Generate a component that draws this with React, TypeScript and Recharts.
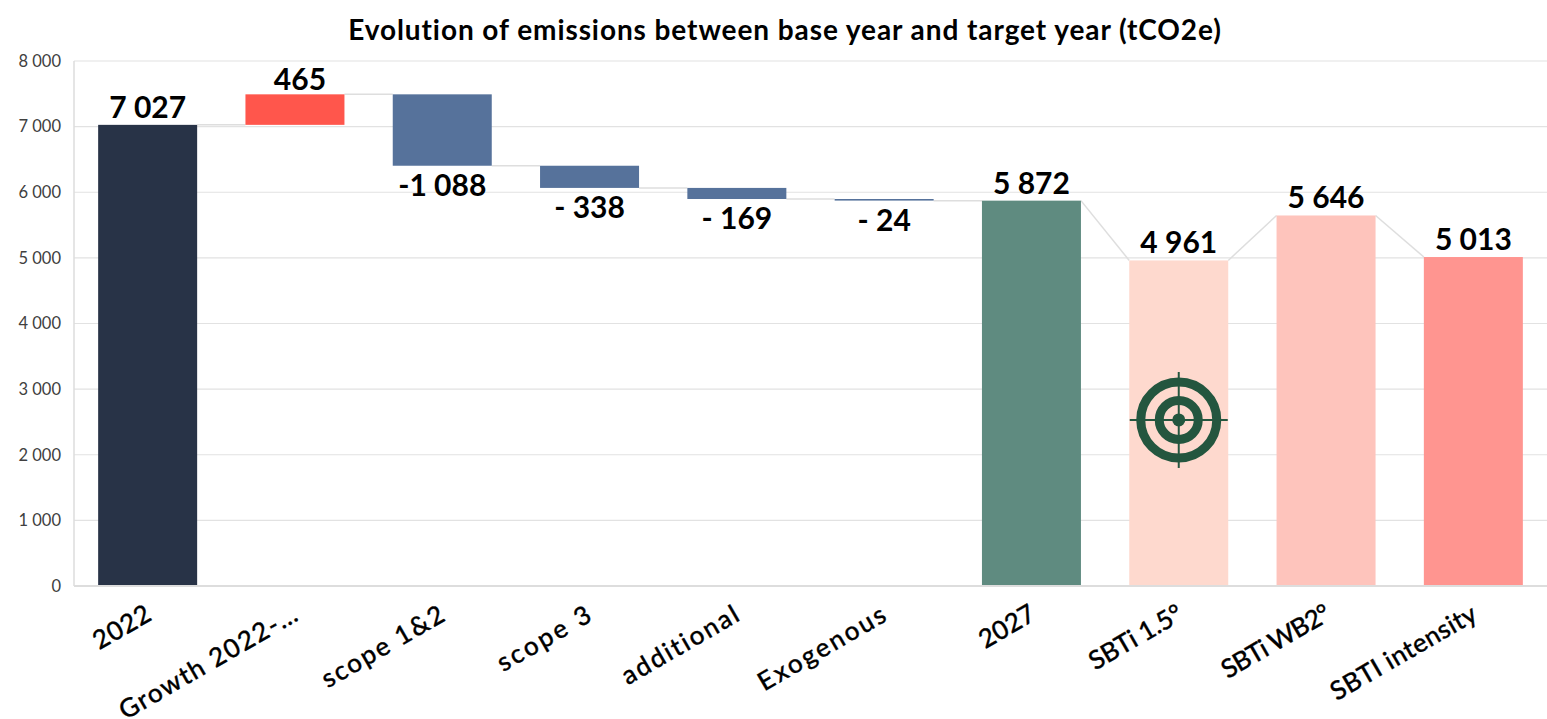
import React from "react";
import { ComposedChart, Bar, XAxis, YAxis, CartesianGrid, ReferenceDot, LabelList } from "recharts";

const categories = ["2022", "Growth 2022-…", "scope 1&2", "scope 3", "additional", "Exogenous", "2027", "SBTi 1.5°", "SBTi WB2°", "SBTI intensity"];
const lows = [0, 7027, 6404, 6066, 5897, 5873, 0, 0, 0, 0];
const highs = [7027, 7492, 7492, 6404, 6066, 5897, 5872, 4961, 5646, 5013];
const labels = ["7 027", "465", "-1 088", "- 338", "- 169", "- 24", "5 872", "4 961", "5 646", "5 013"];
const below = [false, false, true, true, true, true, false, false, false, false];
const colors = ["#283347", "#ff564c", "#56729b", "#56729b", "#56729b", "#56729b", "#5f8b80", "#fed9ce", "#fec4bc", "#ff9590"];
// connector: level on this bar's right edge -> level on the next bar's left edge
const connectFrom = [7027, 7492, 6404, 6066, 5897, 5872, 5872, 4961, 5646];
const connectTo = [7027, 7492, 6404, 6066, 5897, 5872, 4961, 5646, 5013];
const yTicks = [0, 1000, 2000, 3000, 4000, 5000, 6000, 7000, 8000];
const targetValue = 2530;

const data = categories.map((name, i) => ({ name, range: [lows[i], highs[i]] as [number, number], label: labels[i] }));

// text fitting, the substitute font's widths differ per label
const tickSpacing = [0.6, 1.5, 1.9, 2.6, 2, 2.3, 0, -0.3, -0.9, 0.4];
const FONT = "'Lato', 'Open Sans', sans-serif";
const W = 1547;
const H = 719;
const M = { top: 61, right: 0, bottom: 33, left: 0 };
const YW = 74;
const XH = 100;
const BAR = 99;
const STEP = (W - M.left - M.right - YW) / categories.length;

const WaterfallBar = (props: any) => {
  const { x, y, width, height, index } = props;
  const lo = lows[index];
  const hi = highs[index];
  const top = Math.min(y, y + height);
  const h = Math.abs(height);
  const perUnit = h / (hi - lo);
  const yOf = (v: number) => top + (hi - v) * perUnit;
  const hasNext = index < connectFrom.length;
  return (
    <g>
      {hasNext && (
        <line x1={x + width} x2={x + STEP} y1={yOf(connectFrom[index])} y2={yOf(connectTo[index])} stroke="#dedede" strokeWidth={1.5} />
      )}
      <rect x={x} y={top} width={width} height={h} fill={colors[index]} />
    </g>
  );
};

const ValueLabel = (props: any) => {
  const { x, y, width, height, index, value } = props;
  const top = Math.min(y, y + height);
  const bottom = Math.max(y, y + height);
  const ty = below[index] ? bottom + 30 : top - (index === 1 ? 4 : 7);
  const dx = index === 1 ? 5 : 0;
  return (
    <text x={x + width / 2 + dx} y={ty} textAnchor="middle" fontFamily={FONT} fontWeight={700} fontSize={30} fill="#000">
      {value}
    </text>
  );
};

const XTick = (props: any) => {
  const { x, y, payload, index } = props;
  const tx = x + 6;
  const ty = y + 25;
  return (
    <text
      x={tx}
      y={ty}
      textAnchor="end"
      transform={`rotate(-30 ${tx} ${ty})`}
      fontFamily={FONT}
      fontWeight={500}
      fontSize={26}
      letterSpacing={tickSpacing[index]}
      fill="#000"
      stroke="#000"
      strokeWidth={0.3}
    >
      {payload.value}
    </text>
  );
};

const Target = (props: any) => {
  const { cx, cy } = props;
  const c = "#24563f";
  return (
    <g>
      <circle cx={cx} cy={cy} r={38} fill="none" stroke={c} strokeWidth={9} />
      <circle cx={cx} cy={cy} r={19.5} fill="none" stroke={c} strokeWidth={9} />
      <circle cx={cx} cy={cy} r={6.5} fill={c} />
      <line x1={cx - 49} x2={cx + 49} y1={cy} y2={cy} stroke={c} strokeWidth={2} />
      <line x1={cx} x2={cx} y1={cy - 48} y2={cy + 48} stroke={c} strokeWidth={2} />
    </g>
  );
};

export default function App() {
  return (
    <div style={{ position: "absolute", left: 0, top: 0, width: W, height: H, overflow: "hidden", background: "#fff" }}>
      <div
        style={{
          position: "absolute",
          left: 0,
          width: 1570,
          top: 12,
          textAlign: "center",
          fontFamily: FONT,
          fontWeight: 700,
          fontSize: 28,
          letterSpacing: 0.92,
          lineHeight: "34px",
          color: "#000",
        }}
      >
        Evolution of emissions between base year and target year (tCO2e)
      </div>
      <ComposedChart width={W} height={H} data={data} margin={M} barCategoryGap={(STEP - BAR) / 2}>
        <CartesianGrid horizontal vertical={false} stroke="#e2e2e2" strokeWidth={1.2} />
        <XAxis
          dataKey="name"
          interval={0}
          height={XH}
          tick={<XTick />}
          tickLine={false}
          axisLine={{ stroke: "#dddddd", strokeWidth: 2 }}
        />
        <YAxis
          width={YW}
          domain={[0, 8000]}
          ticks={yTicks}
          tickFormatter={(v: number) => (v === 0 ? "0" : `${v / 1000} 000`)}
          tick={{ fontFamily: FONT, fontSize: 16.5, fill: "#404040" }}
          tickLine={false}
          tickMargin={7}
          axisLine={{ stroke: "#dddddd", strokeWidth: 1.5 }}
        />
        <Bar dataKey="range" isAnimationActive={false} shape={<WaterfallBar />}>
          <LabelList dataKey="label" content={<ValueLabel />} />
        </Bar>
        <ReferenceDot x="SBTi 1.5°" y={targetValue} shape={<Target />} />
      </ComposedChart>
    </div>
  );
}
